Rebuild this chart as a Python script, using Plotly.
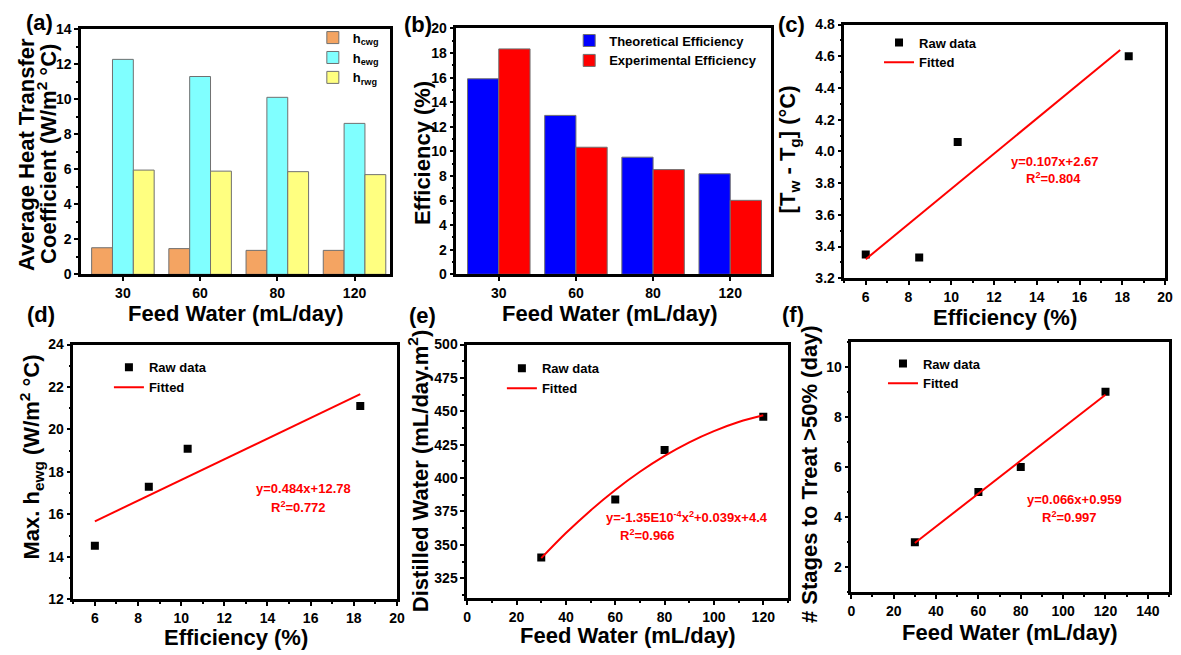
import plotly.graph_objects as go

# ---------------- data ----------------
feed_cats = ["30", "60", "80", "120"]
h_cwg = [1.52, 1.47, 1.37, 1.37]
h_ewg = [12.29, 11.31, 10.12, 8.63]
h_rwg = [5.96, 5.90, 5.87, 5.70]

theo_eff = [15.91, 12.93, 9.53, 8.18]
exp_eff = [18.34, 10.34, 8.52, 6.02]

c_eff = [6.0, 8.5, 10.3, 18.3]
c_dT = [3.35, 3.33, 4.06, 4.60]
c_fit_x = [6.0, 17.9]
c_fit_y = [3.32, 4.64]

d_eff = [6.0, 8.5, 10.3, 18.3]
d_hmax = [14.52, 17.30, 19.09, 21.11]
d_fit_x = [6.0, 18.3]
d_fit_y = [15.67, 21.66]

e_feed = [30, 60, 80, 120]
e_dist = [340.5, 384.0, 421.0, 446.0]
e_fit_x = [30, 40, 50, 60, 70, 80, 90, 100, 110, 120]
e_fit_y = [340.0, 358.8, 375.8, 391.1, 404.7, 416.6, 426.8, 435.2, 442.0, 447.0]

f_feed = [30, 60, 80, 120]
f_stages = [3.0, 5.0, 6.0, 9.0]
f_fit_x = [30, 120]
f_fit_y = [2.97, 8.88]

# ---------------- style ----------------
W, H = 1181, 655
FONT = "Liberation Sans, Arial, sans-serif"


def px(x):
    return x / W


def py(y):
    return 1 - y / H


def axis(domain, anchor, rng, **kw):
    d = dict(domain=domain, anchor=anchor, range=rng,
             showline=True, linewidth=2.5, linecolor="black", mirror=True,
             ticks="outside", ticklen=4, tickwidth=2, tickcolor="black",
             tickfont=dict(family=FONT, size=14, color="black", weight="bold"),
             showgrid=False, zeroline=False, fixedrange=True)
    d.update(kw)
    return d


def minor(dt):
    return dict(ticks="outside", ticklen=2, tickwidth=1.5, tickcolor="black",
                dtick=dt, showgrid=False)


fig = go.Figure()

# (a)
bar_line = dict(color="#707070", width=1)
fig.add_trace(go.Bar(x=feed_cats, y=h_cwg, name="h<sub>cwg</sub>",
                     marker=dict(color="#F4A462", line=bar_line),
                     xaxis="x", yaxis="y", legend="legend"))
fig.add_trace(go.Bar(x=feed_cats, y=h_ewg, name="h<sub>ewg</sub>",
                     marker=dict(color="#80FFFF", line=bar_line),
                     xaxis="x", yaxis="y", legend="legend"))
fig.add_trace(go.Bar(x=feed_cats, y=h_rwg, name="h<sub>rwg</sub>",
                     marker=dict(color="#FFFF80", line=bar_line),
                     xaxis="x", yaxis="y", legend="legend"))
# (b)
fig.add_trace(go.Bar(x=feed_cats, y=theo_eff, name="Theoretical Efficiency",
                     marker=dict(color="#0000FF", line=bar_line),
                     xaxis="x2", yaxis="y2", legend="legend2"))
fig.add_trace(go.Bar(x=feed_cats, y=exp_eff, name="Experimental Efficiency",
                     marker=dict(color="#FF0000", line=bar_line),
                     xaxis="x2", yaxis="y2", legend="legend2"))


def scatter_panel(xs, ys, fx, fy, n, shape="linear"):
    xa = "x" + str(n)
    ya = "y" + str(n)
    lg = "legend" + str(n)
    fig.add_trace(go.Scatter(x=xs, y=ys, mode="markers", name="Raw data",
                             marker=dict(symbol="square", size=8, color="black"),
                             xaxis=xa, yaxis=ya, legend=lg))
    fig.add_trace(go.Scatter(x=fx, y=fy, mode="lines", name="Fitted",
                             line=dict(color="red", width=2, shape=shape),
                             xaxis=xa, yaxis=ya, legend=lg))


scatter_panel(c_eff, c_dT, c_fit_x, c_fit_y, 3)
scatter_panel(d_eff, d_hmax, d_fit_x, d_fit_y, 4)
scatter_panel(e_feed, e_dist, e_fit_x, e_fit_y, 5, shape="spline")
scatter_panel(f_feed, f_stages, f_fit_x, f_fit_y, 6)

# domains (pixel boxes)
dom = {
    1: (78, 390, 22, 273),
    2: (457, 775, 21, 273),
    3: (849, 1173, 17, 277),
    4: (70, 397, 345, 606),
    5: (468, 792, 345, 605),
    6: (856, 1177, 342, 599),
}


def xd(n):
    l, r, t, b = dom[n]
    return [px(l), px(r)]


def yd(n):
    l, r, t, b = dom[n]
    return [py(b), py(t)]


layout = dict(
    width=W, height=H, margin=dict(l=0, r=0, t=0, b=0),
    paper_bgcolor="white", plot_bgcolor="white",
    barmode="group", bargap=0.19, bargroupgap=0,
    font=dict(family=FONT, color="black"),
    showlegend=True,
)
layout["xaxis"] = axis(xd(1), "y", [-0.54, 3.46], type="category")
layout["yaxis"] = axis(yd(1), "x", [0, 14], dtick=2, minor=minor(1))
layout["xaxis2"] = axis(xd(2), "y2", [-0.55, 3.53], type="category")
layout["yaxis2"] = axis(yd(2), "x2", [0, 20], dtick=2, minor=minor(1))
layout["xaxis3"] = axis(xd(3), "y3", [5, 20], tick0=0, dtick=2, minor=minor(1))
layout["yaxis3"] = axis(yd(3), "x3", [3.2, 4.8], tick0=0, dtick=0.2,
                        tickformat=".1f", minor=minor(0.1))
layout["xaxis4"] = axis(xd(4), "y4", [5, 20], tick0=0, dtick=2, minor=minor(1))
layout["yaxis4"] = axis(yd(4), "x4", [12, 24], tick0=0, dtick=2, minor=minor(1))
layout["xaxis5"] = axis(xd(5), "y5", [0, 130], tick0=0, dtick=20, minor=minor(10))
layout["yaxis5"] = axis(yd(5), "x5", [310, 500], tick0=0, dtick=25, minor=minor(12.5))
layout["xaxis6"] = axis(xd(6), "y6", [0, 150], tick0=0, dtick=20, minor=minor(10))
layout["yaxis6"] = axis(yd(6), "x6", [1, 11], tick0=0, dtick=2, minor=minor(1))

leg_font = dict(family=FONT, size=13, color="black", weight="bold")
leg_pos = {
    "legend": (312, 15),
    "legend2": (571, 18),
    "legend3": (884, 20),
    "legend4": (106, 353),
    "legend5": (503, 354),
    "legend6": (888, 349),
}
for k, (lx, ly) in leg_pos.items():
    layout[k] = dict(x=px(lx), y=py(ly), xanchor="left", yanchor="top",
                     bgcolor="rgba(0,0,0,0)", borderwidth=0, font=leg_font,
                     tracegroupgap=0)

ann = []


def text(t, x, y, size, angle=0, color="black"):
    ann.append(dict(text=t, x=px(x), y=py(y), xref="paper", yref="paper",
                    xanchor="center", yanchor="middle", showarrow=False,
                    textangle=angle, borderpad=0,
                    font=dict(family=FONT, size=size, color=color, weight="bold")))


# panel labels
text("(a)", 36, 15, 22)
text("(b)", 418, 17, 22)
text("(c)", 796, 17, 22)
text("(d)", 37, 314, 22)
text("(e)", 423, 315, 22)
text("(f)", 797, 314, 22)

# x titles
text("Feed Water (mL/day)", 234, 313, 22)
text("Feed Water (mL/day)", 612, 313, 22)
text("Efficiency (%)", 1011, 317, 22)
text("Efficiency (%)", 234, 645, 22)
text("Feed Water (mL/day)", 630, 643, 22)
text("Feed Water (mL/day)", 1016, 640, 22)

# y titles
text("Average Heat Transfer", 23, 150, 22, -90)
text("Coefficient (W/m<sup>2</sup> °C)", 44, 150, 22, -90)
text("Efficiency (%)", 423, 149, 22, -90)
text("[T<sub>w</sub> - T<sub>g</sub>] (°C)", 794, 145, 22, -90)
text("Max. h<sub>ewg</sub> (W/m<sup>2</sup> °C)", 28, 460, 22, -90)
text("Distilled Water (mL/day.m<sup>2</sup>)", 419, 475, 22, -90)
text("# Stages to Treat >50% (day)", 814, 478, 22, -90)

# fit equations
RED = "#FF0000"
text("y=0.107x+2.67", 1061, 157, 13, color=RED)
text("R<sup>2</sup>=0.804", 1060, 174, 13, color=RED)
text("y=0.484x+12.78", 303, 493, 13, color=RED)
text("R<sup>2</sup>=0.772", 298, 512, 13, color=RED)
text("y=-1.35E10<sup>-4</sup>x<sup>2</sup>+0.039x+4.4", 690, 522, 13, color=RED)
text("R<sup>2</sup>=0.966", 650, 540, 13, color=RED)
text("y=0.066x+0.959", 1081, 504, 13, color=RED)
text("R<sup>2</sup>=0.997", 1076, 522, 13, color=RED)

layout["annotations"] = ann
fig.update_layout(**layout)

fig.write_html("out.html")
